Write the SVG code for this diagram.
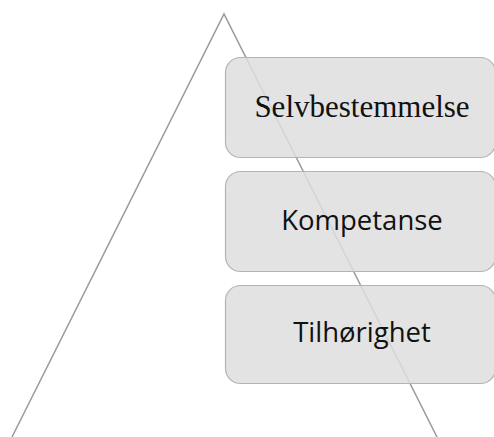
<svg xmlns="http://www.w3.org/2000/svg" width="494" height="437" viewBox="0 0 494 437">
<style>
.box{fill:#dedede;fill-opacity:0.85;stroke:#b4b4b4;stroke-width:1.2}
.lbl{fill:#111;text-anchor:middle}
.serif{font-family:"Liberation Serif",serif;font-size:31px}
.sans{font-family:"Open Sans","Liberation Sans",sans-serif;font-size:27.5px}
</style>
<g id="connectors">
<polyline points="12,437 224,14 437,437" fill="none" stroke="#9a9a9a" stroke-width="1.5"/>
</g>
<g id="selvbestemmelse">
<rect class="box" x="225.5" y="57.5" width="270" height="100" rx="15"/>
<text class="lbl serif" x="362" y="117">Selvbestemmelse</text>
</g>
<g id="kompetanse">
<rect class="box" x="225.5" y="171.5" width="270" height="100" rx="15"/>
<text class="lbl sans" x="362" y="230">Kompetanse</text>
</g>
<g id="tilhorighet">
<rect class="box" x="225.5" y="285.5" width="270" height="98" rx="15"/>
<text class="lbl sans" x="362" y="342">Tilhørighet</text>
</g>
</svg>
